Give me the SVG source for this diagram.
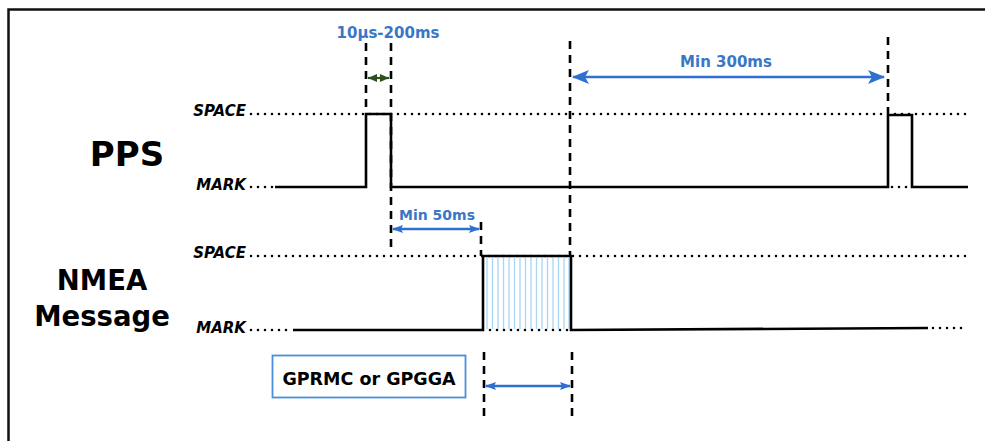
<svg xmlns="http://www.w3.org/2000/svg" width="985" height="441" viewBox="0 0 985 441">
<defs>
<style>
.sig{fill:none;stroke:#000;stroke-width:2.6;stroke-linejoin:miter}
.dot{fill:none;stroke:#000;stroke-width:2.6;stroke-linecap:round;stroke-dasharray:0 7}
.dash{fill:none;stroke:#000;stroke-width:2.6;stroke-dasharray:8 6}
.lvl{font-family:"DejaVu Sans",Verdana,sans-serif;font-weight:bold;font-style:italic;font-size:15px;fill:#000;text-anchor:end}
.big{font-family:"DejaVu Sans",Verdana,sans-serif;font-weight:bold;fill:#000;text-anchor:middle}
.blue{font-family:"DejaVu Sans",Verdana,sans-serif;font-weight:bold;fill:#3a76c8;text-anchor:middle}
.arr{fill:none;stroke:#2e6fd0;stroke-width:2.5}
.hatch{stroke:#a9d5f5;stroke-width:1.3}
</style>
<marker id="aBig" markerUnits="userSpaceOnUse" markerWidth="18" markerHeight="16" refX="16" refY="8" orient="auto-start-reverse">
<path d="M0,1 L17,8 L0,15 L4,8 Z" fill="#2e6fd0"/>
</marker>
<marker id="aSm" markerUnits="userSpaceOnUse" markerWidth="12" markerHeight="10" refX="10" refY="5" orient="auto-start-reverse">
<path d="M0,1 L11,5 L0,9 L2,5 Z" fill="#2e6fd0"/>
</marker>
<marker id="aGr" markerUnits="userSpaceOnUse" markerWidth="10" markerHeight="10" refX="9" refY="5" orient="auto-start-reverse">
<path d="M0,1 L9,5 L0,9 Z" fill="#2f4f1f"/>
</marker>
</defs>
<rect width="985" height="441" fill="#fff"/>
<g id="frame">
<path d="M8.5,441 V9.5 H985" fill="none" stroke="#111" stroke-width="2.5"/>
</g>
<g id="pps">
<text class="big" x="127" y="166" font-size="34">PPS</text>
<text class="lvl" x="246" y="116" font-size="14.5">SPACE</text>
<text class="lvl" x="246" y="190">MARK</text>
<path class="dot" d="M251,114 H968"/>
<path class="dot" d="M251,187 H275"/>
<path class="dot" d="M892,187 H910"/>
<path class="sig" d="M275,187 H366 V114 H391 V187 H888 V115 H912 V187 H968"/>
</g>
<g id="nmea">
<text class="big" x="102" y="290" font-size="27.5">NMEA</text>
<text class="big" x="102" y="326" font-size="27.5">Message</text>
<text class="lvl" x="246" y="258" font-size="14.5">SPACE</text>
<text class="lvl" x="246" y="333">MARK</text>
<path class="dot" d="M251,256 H968"/>
<path class="dot" d="M251,330 H293"/>
<path class="dot" d="M933,328 H968"/>
<g id="hatch">
<path class="hatch" d="M487,258 V329 M492.5,258 V329 M498,258 V329 M503.5,258 V329 M509,258 V329 M514.5,258 V329 M520,258 V329 M525.5,258 V329 M531,258 V329 M536.5,258 V329 M542,258 V329 M547.5,258 V329 M553,258 V329 M558.5,258 V329 M564,258 V329 M569,258 V329"/>
</g>
<path class="dot" d="M490,330 H568"/>
<path class="sig" d="M293,330 H483 V256 H571 V330 L928,328"/>
</g>
<g id="gprmc">
<rect x="272.5" y="355.5" width="193" height="42" fill="#fff" stroke="#4a8fdc" stroke-width="1.8"/>
<text class="big" x="369" y="385" font-size="17.5">GPRMC or GPGGA</text>
</g>
<g id="connectors">
<path class="dash" d="M366,43 V112"/>
<path class="dash" d="M391,43 V248"/>
<path class="dash" d="M570,41 V256"/>
<path class="dash" d="M888,37 V113"/>
<path class="dash" d="M481,222 V256"/>
<path class="dash" d="M484,352 V421"/>
<path class="dash" d="M572,352 V421"/>
<path d="M368,78 H389" fill="none" stroke="#2f4f1f" stroke-width="2.2" marker-start="url(#aGr)" marker-end="url(#aGr)"/>
<path class="arr" d="M573,77 H884" marker-start="url(#aBig)" marker-end="url(#aBig)"/>
<path class="arr" d="M393,229 H479" marker-start="url(#aSm)" marker-end="url(#aSm)"/>
<path class="arr" d="M486,386 H570" marker-start="url(#aSm)" marker-end="url(#aSm)"/>
</g>
<g id="labels">
<text class="blue" x="388" y="38" font-size="15">10µs-200ms</text>
<text class="blue" x="726" y="67" font-size="15">Min 300ms</text>
<text class="blue" x="437" y="220" font-size="14">Min 50ms</text>
</g>
</svg>
